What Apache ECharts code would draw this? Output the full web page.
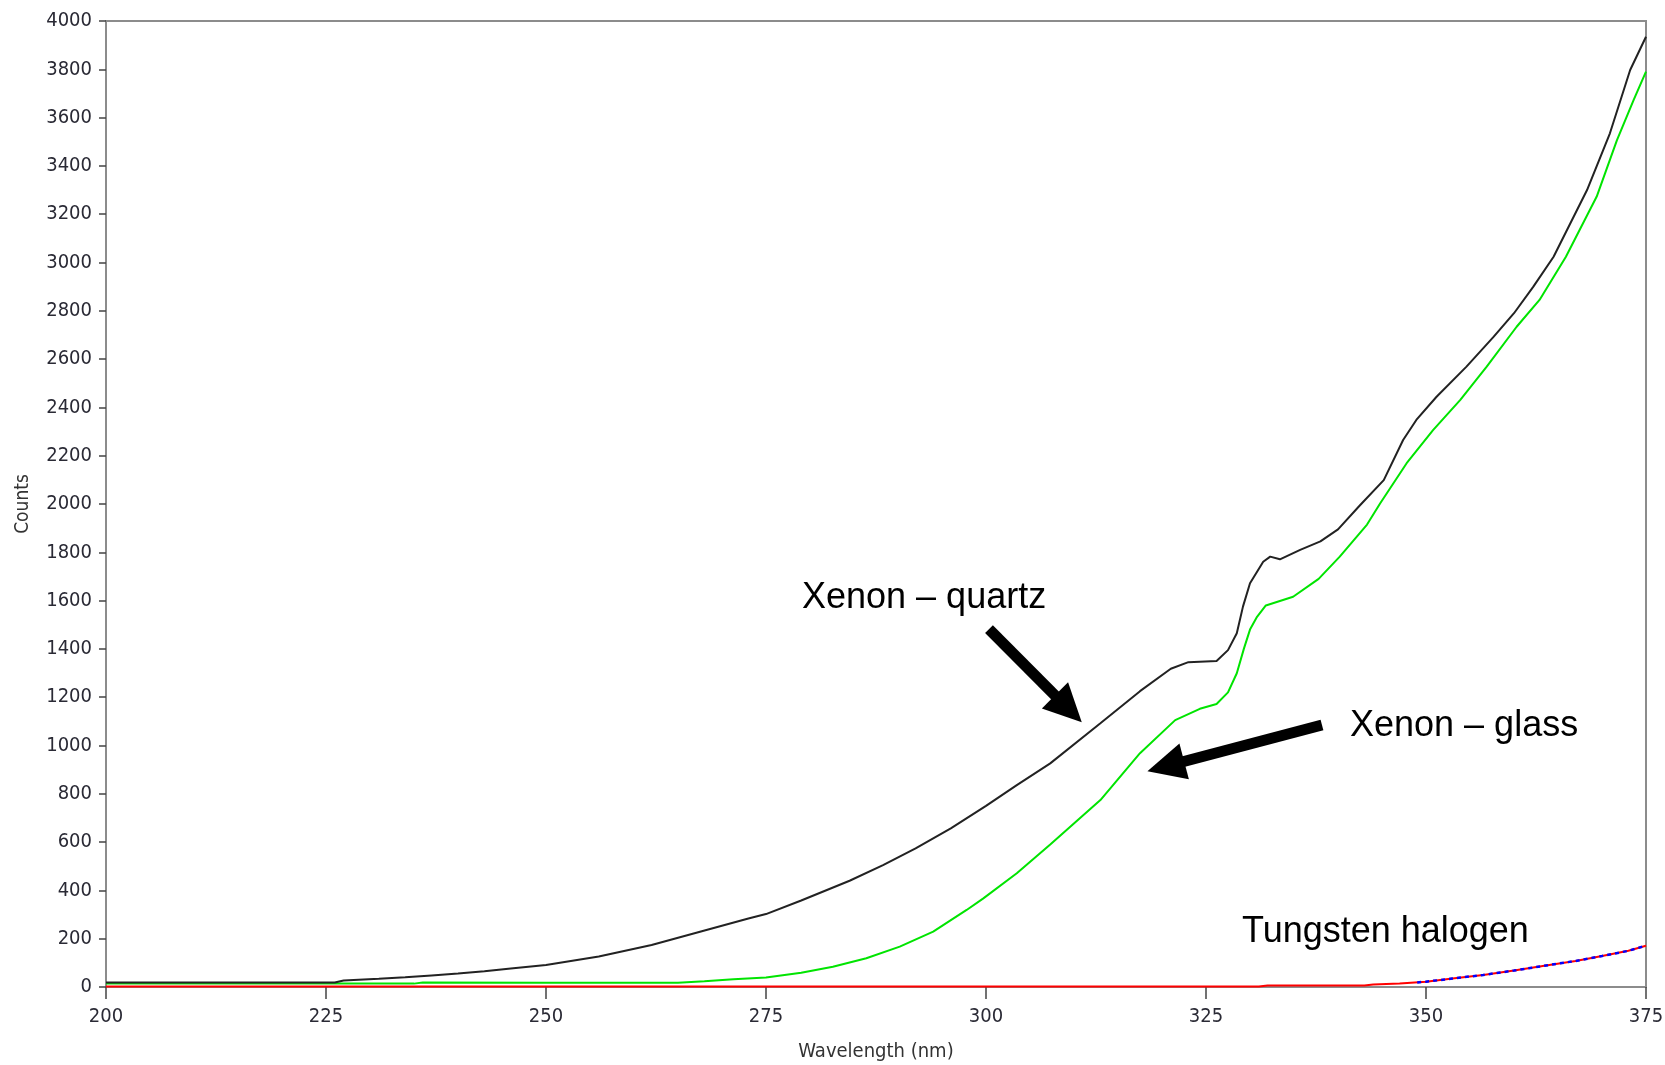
<!DOCTYPE html>
<html>
<head>
<meta charset="utf-8">
<script src="https://cdn.jsdelivr.net/npm/echarts@6/dist/echarts.min.js"></script>
<style>
html,body{margin:0;padding:0;background:#fff;}
#chart{width:1665px;height:1065px;}
</style>
</head>
<body>
<div id="chart"></div>
<script>
// Xenon – quartz (black)
const quartzWl = [200, 226, 227, 231, 234, 237, 240, 243, 246, 250, 256, 262, 267.5, 273, 275, 279, 284.5, 288.3, 292, 296, 300, 303.5, 307.3, 313, 317.5, 321, 323, 326.2, 327.5, 328.5, 329.2, 330, 331.5, 332.3, 333.4, 335.7, 338, 340, 342.5, 345.2, 347.4, 348.9, 351.2, 354.6, 357.7, 360, 362.2, 364.5, 368.3, 370.9, 373.2, 375];
const quartzCounts = [19, 19, 27, 34, 40, 48, 56, 65, 77, 91, 126, 174, 229, 284, 302, 358, 440, 505, 574, 657, 750, 836, 926, 1092, 1225, 1318, 1345, 1350, 1395, 1465, 1575, 1672, 1761, 1782, 1771, 1810, 1845, 1895, 1995, 2099, 2265, 2348, 2444, 2569, 2693, 2790, 2900, 3024, 3300, 3535, 3797, 3935];

// Xenon – glass (green)
const glassWl = [200, 235, 236, 250, 265, 268, 271.3, 275, 279, 282.6, 286.4, 290.2, 294, 297.8, 299.7, 303.5, 307.3, 313, 317.5, 321.5, 324.3, 326.2, 327.5, 328.5, 329.3, 330, 330.8, 331.8, 334.9, 337.8, 340.2, 343.3, 344.8, 347.8, 350.8, 353.9, 356.9, 360.3, 362.9, 365.9, 369.4, 371.7, 373.6, 375];
const glassCounts = [14, 14, 19, 18, 18, 24, 32, 39, 59, 84, 119, 167, 229, 319, 367, 471, 590, 774, 968, 1105, 1152, 1172, 1220, 1299, 1400, 1480, 1533, 1580, 1616, 1690, 1782, 1915, 2003, 2169, 2306, 2431, 2569, 2734, 2845, 3024, 3273, 3507, 3673, 3790];

// Tungsten halogen (red) and overlaid dashed trace (blue)
const halogenWl = [200, 331, 332, 343, 344, 347, 350, 353, 356.5, 360, 364, 367, 370, 373, 375];
const halogenCounts = [2, 2, 6, 6, 10, 14, 22, 35, 50, 68, 91, 108, 128, 150, 171];
const halogen2Wl = [349, 350, 353, 356.5, 360, 364, 367, 370, 373, 375];
const halogen2Counts = [19, 22, 35, 50, 68, 91, 108, 128, 150, 171];

// axis ticks
const xTicks = [200, 225, 250, 275, 300, 325, 350, 375];
const yMin = 0, yMax = 4000, yStep = 200;

// annotation arrows in data space [tail, head]
const arrowQuartz = [[300.34, 1482], [309.36, 1152]];
const arrowGlass = [[338.18, 1085], [320.43, 914]];

const pairs = (xs, ys) => xs.map((x, i) => [x, ys[i]]);
const tickFont = "'DejaVu Sans Condensed', 'Liberation Sans Narrow', 'DejaVu Sans', sans-serif";
const annFont = "'Liberation Sans', Arial, sans-serif";

const chart = echarts.init(document.getElementById('chart'));
chart.setOption({
  animation: false,
  backgroundColor: '#fff',
  grid: {
    left: 106, right: 19, top: 21, bottom: 78,
    show: true, borderColor: '#8c8c8c', borderWidth: 2,
    containLabel: false, outerBoundsMode: 'none'
  },
  xAxis: {
    type: 'value',
    min: xTicks[0], max: xTicks[xTicks.length - 1], interval: 25,
    name: 'Wavelength (nm)', nameLocation: 'middle', nameGap: 55,
    nameTextStyle: { fontFamily: tickFont, fontSize: 20, color: '#333' },
    axisLine: { show: false },
    axisTick: { show: true, length: 12, lineStyle: { color: '#444', width: 1.5 } },
    axisLabel: { fontFamily: tickFont, fontSize: 20, color: '#2a2a35', margin: 20, formatter: v => String(v) },
    splitLine: { show: false }
  },
  yAxis: {
    type: 'value',
    min: yMin, max: yMax, interval: yStep,
    name: 'Counts', nameLocation: 'middle', nameGap: 73, nameRotate: 90,
    nameTextStyle: { fontFamily: tickFont, fontSize: 19, color: '#333' },
    axisLine: { show: true, lineStyle: { color: '#8c8c8c', width: 2 } },
    axisTick: { show: true, length: 7, lineStyle: { color: '#444', width: 1.5 } },
    axisLabel: { fontFamily: tickFont, fontSize: 20, color: '#2a2a35', margin: 14, formatter: v => String(v) },
    splitLine: { show: false }
  },
  series: [
    {
      name: 'Xenon – glass', type: 'line', showSymbol: false, symbol: 'none',
      data: pairs(glassWl, glassCounts),
      lineStyle: { color: '#00e400', width: 2 }, z: 2
    },
    {
      name: 'Xenon – quartz', type: 'line', showSymbol: false, symbol: 'none',
      data: pairs(quartzWl, quartzCounts),
      lineStyle: { color: '#222', width: 2 }, z: 3,
      markLine: {
        silent: true, symbol: ['none', 'triangle'], symbolSize: [37, 38],
        label: { show: false }, emphasis: { disabled: true },
        lineStyle: { color: '#000', width: 11, type: 'solid', cap: 'butt' },
        itemStyle: { color: '#000' },
        z: 10,
        data: [
          [{ coord: arrowQuartz[0] }, { coord: arrowQuartz[1] }],
          [{ coord: arrowGlass[0] }, { coord: arrowGlass[1] }]
        ]
      }
    },
    {
      name: 'Tungsten halogen', type: 'line', showSymbol: false, symbol: 'none',
      data: pairs(halogenWl, halogenCounts),
      lineStyle: { color: '#ff0000', width: 2 }, z: 4
    },
    {
      name: 'Tungsten halogen 2', type: 'line', showSymbol: false, symbol: 'none',
      data: pairs(halogen2Wl, halogen2Counts),
      lineStyle: { color: '#0000ff', width: 2.5, type: [4, 4] }, z: 5
    }
  ],
  graphic: [
    { type: 'text', x: 802, y: 598, style: { text: 'Xenon – quartz', font: '36px ' + annFont, fill: '#000', align: 'left', verticalAlign: 'middle' } },
    { type: 'text', x: 1350, y: 726, style: { text: 'Xenon – glass', font: '36px ' + annFont, fill: '#000', align: 'left', verticalAlign: 'middle' } },
    { type: 'text', x: 1242, y: 932, style: { text: 'Tungsten halogen', font: '36px ' + annFont, fill: '#000', align: 'left', verticalAlign: 'middle' } }
  ]
});
</script>
</body>
</html>
